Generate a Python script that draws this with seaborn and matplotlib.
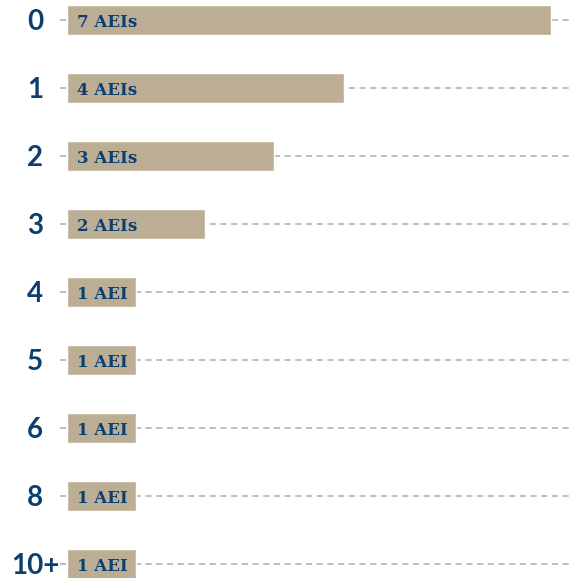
import matplotlib
matplotlib.use("Agg")
import matplotlib.pyplot as plt
import seaborn as sns
import pandas as pd

categories = ["0", "1", "2", "3", "4", "5", "6", "8", "10+"]
values = [7, 4, 3, 2, 1, 1, 1, 1, 1]
labels = ["7 AEIs", "4 AEIs", "3 AEIs", "2 AEIs", "1 AEI", "1 AEI", "1 AEI", "1 AEI", "1 AEI"]

df = pd.DataFrame({"cat": categories, "val": values})

sns.set_style("white")
W, H = 569, 578
fig = plt.figure(figsize=(W / 100, H / 100), dpi=100)
ax = fig.add_axes([60 / W, 0, (W - 60) / W, 1])

bar_color = "#bcad95"
text_color = "#0c3f70"
grid_color = "#a7aac6"

sns.barplot(data=df, x="val", y="cat", orient="h", color=bar_color, width=0.43,
            saturation=1, ax=ax, zorder=2)

unit = (551 - 67) / 7.0
ax.set_xlim(-7 / unit, (W - 67) / unit)
ax.set_ylim(8 + 14 / 68, -20 / 68)

ax.grid(axis="y", linestyle=(0, (4, 3)), color=grid_color, linewidth=1.1, zorder=0)
ax.grid(axis="x", visible=False)
ax.set_axisbelow(True)
for s in ax.spines.values():
    s.set_visible(False)
ax.set_xlabel("")
ax.set_ylabel("")
ax.set_xticks([])
ax.tick_params(axis="y", length=0, pad=18, labelsize=20, labelcolor=text_color)
for t in ax.get_yticklabels():
    t.set_fontfamily("Lato")
    t.set_fontweight("bold")
    t.set_horizontalalignment("center")

for i, lab in enumerate(labels):
    ax.text(10 / unit, i + 0.03, lab, ha="left", va="center", fontsize=12,
            fontweight="bold", family="DejaVu Serif", color=text_color, zorder=3)

fig.savefig("out.png", dpi=100)
